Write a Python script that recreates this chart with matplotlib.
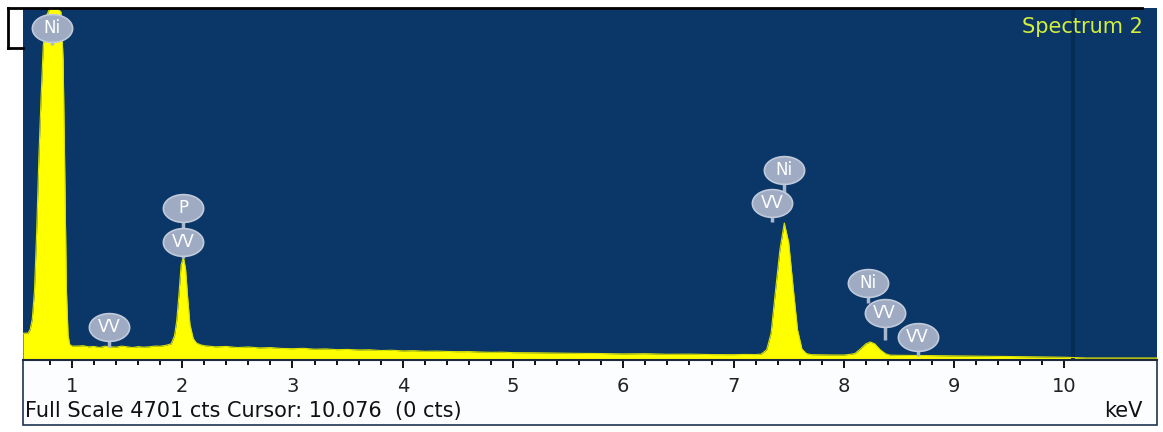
import matplotlib
matplotlib.use("Agg")
from matplotlib import pyplot as plt
from matplotlib.lines import Line2D
from matplotlib.patches import Rectangle
from matplotlib.path import Path
import numpy as np

# spectrum (keV, counts)
energy = [0.556, 0.58, 0.60, 0.62, 0.64, 0.66, 0.68, 0.70, 0.72, 0.74, 0.77, 0.80,
          0.86, 0.90, 0.92, 0.935, 0.95, 0.965, 0.98, 1.00,
          1.05, 1.10, 1.15, 1.20, 1.25, 1.30, 1.35, 1.40, 1.45, 1.50, 1.55, 1.60, 1.65,
          1.70, 1.75, 1.80, 1.85, 1.90, 1.93, 1.95, 1.97, 1.99, 2.01, 2.03, 2.05, 2.07,
          2.10, 2.13, 2.17, 2.20, 2.30, 2.40, 2.50, 2.60, 2.70, 2.80, 2.90, 3.00, 3.10,
          3.20, 3.30, 3.40, 3.50, 3.60, 3.70, 3.80, 3.90, 4.00, 4.10, 4.20, 4.30, 4.40,
          4.50, 4.60, 4.70, 4.80, 4.90, 5.00, 5.20, 5.40, 5.60, 5.80, 6.00, 6.20, 6.40,
          6.60, 6.80, 7.00, 7.10, 7.20, 7.25, 7.30, 7.34, 7.38, 7.42, 7.46, 7.50, 7.54,
          7.58, 7.62, 7.66, 7.70, 7.80, 7.90, 8.00, 8.05, 8.10, 8.15, 8.20, 8.24, 8.28,
          8.33, 8.38, 8.42, 8.50, 8.60, 8.70, 8.80, 8.90, 9.00, 9.20, 9.40, 9.60, 9.80,
          10.00, 10.10, 10.20, 10.84]
counts = [330, 335, 330, 380, 520, 900, 1700, 2700, 3500, 4200, 4600, 4701,
          4701, 4650, 4000, 2500, 900, 300, 180, 160,
          160, 165, 150, 155, 140, 158, 150, 145, 160, 150, 140, 152, 145,
          150, 160, 158, 170, 190, 300, 500, 850, 1250, 1357, 1200, 800, 450,
          260, 200, 175, 165, 150, 155, 140, 148, 135, 140, 128, 125, 130,
          118, 122, 112, 115, 108, 110, 100, 104, 95, 98, 90, 93, 88,
          85, 86, 80, 76, 78, 72, 70, 66, 62, 60, 55, 58, 50,
          52, 46, 45, 48, 46, 52, 110, 330, 900, 1450, 1813, 1550, 950,
          380, 120, 60, 45, 42, 40, 40, 48, 60, 120, 190, 215, 190,
          110, 55, 38, 36, 35, 33, 32, 30, 28, 25, 22, 18, 14,
          10, 5, 0, 0]

full_scale = 4701
cursor_kev = 10.076

# element markers: text, energy, label height, stem tip (counts)
label_text = ["Ni", "P", "Ni", "Ni", "VV", "VV", "VV", "VV", "VV"]
label_kev = [0.82, 2.01, 7.46, 8.22, 1.34, 2.01, 7.35, 8.37, 8.67]
label_y = [4432, 2015, 2525, 1007, 416, 1558, 2082, 604, 282]
label_tip = [4204, 1558, 2082, 739, 148, 1343, 1827, 242, 27]

major_ticks = list(range(1, 11))
minor_ticks = [round(0.8 + 0.2 * i, 1) for i in range(47)]

W, H = 1163, 432
fig = plt.figure(figsize=(W / 100, H / 100), dpi=100)
fig.patch.set_facecolor("white")

# white strip under the spectrum
fig.add_artist(Rectangle((23 / W, 1 - 425 / H), (1157 - 23) / W, 65 / H,
                         transform=fig.transFigure, facecolor="#fbfdfe",
                         edgecolor="#1c3550", lw=1.2, zorder=-5))

ax = fig.add_axes([23 / W, 1 - 360 / H, (1157 - 23) / W, (360 - 8) / H])
ax.set_facecolor("#0b3768")
ax.fill_between(energy, counts, -40, color="#ffff00", lw=0)
ax.plot(energy, counts, color="#d8e000", lw=0.8)
ax.axvline(cursor_kev, color="#072c55", lw=3, zorder=1)

ax.set_xlim(0.556, 10.84)
ax.set_ylim(-27, full_scale)
ax.set_yticks([])
ax.set_xticks(major_ticks)
ax.set_xticks(minor_ticks, minor=True)
ax.tick_params(axis="x", which="major", length=6, width=1.4, direction="out",
               color="#111111", labelsize=14, pad=6)
ax.tick_params(axis="x", which="minor", length=3.5, width=1.4, direction="out",
               color="#111111")
for lab in ax.get_xticklabels():
    lab.set_fontfamily("DejaVu Sans")
    lab.set_color("#222222")
for side in ["top", "left", "right"]:
    ax.spines[side].set_visible(False)
ax.spines["bottom"].set_color("#1c2a3c")
ax.spines["bottom"].set_linewidth(1.5)

# label bubbles: stem, wide ellipse, white text
t = np.linspace(0, 2 * np.pi, 60)
blob = Path(np.column_stack([1.45 * np.cos(t), np.sin(t)]), closed=True)
ax.vlines(label_kev, label_tip, label_y, color="#a9b8cc", lw=2.5, zorder=3)
ax.scatter(label_kev, label_y, marker=blob, s=29 ** 2, facecolor="#9eabc2",
           edgecolor="#c0cadb", lw=1.2, zorder=4)
for txt, e, y in zip(label_text, label_kev, label_y):
    ax.text(e, y, txt, ha="center", va="center", color="white", fontsize=12,
            family="DejaVu Sans", zorder=5)

ax.text(0.9875, 0.975, "Spectrum 2", transform=ax.transAxes, ha="right", va="top",
        color="#d4ee3c", fontsize=15, family="DejaVu Sans")

fig.text(25 / W, 1 - 411 / H, "Full Scale 4701 cts Cursor: 10.076  (0 cts)",
         ha="left", va="center", fontsize=15, family="DejaVu Sans", color="#111111")
fig.text(1143 / W, 1 - 411 / H, "keV", ha="right", va="center", fontsize=15,
         family="DejaVu Sans", color="#111111")

# stray black frame in the top-left corner
fig.add_artist(Line2D([8 / W, 1142 / W], [1 - 8 / H, 1 - 8 / H], color="black", lw=2))
fig.add_artist(Line2D([8 / W, 8 / W], [1 - 8 / H, 1 - 48 / H], color="black", lw=2))
fig.add_artist(Line2D([8 / W, 23 / W], [1 - 48 / H, 1 - 48 / H], color="black", lw=2))

fig.savefig("out.png", dpi=100)
